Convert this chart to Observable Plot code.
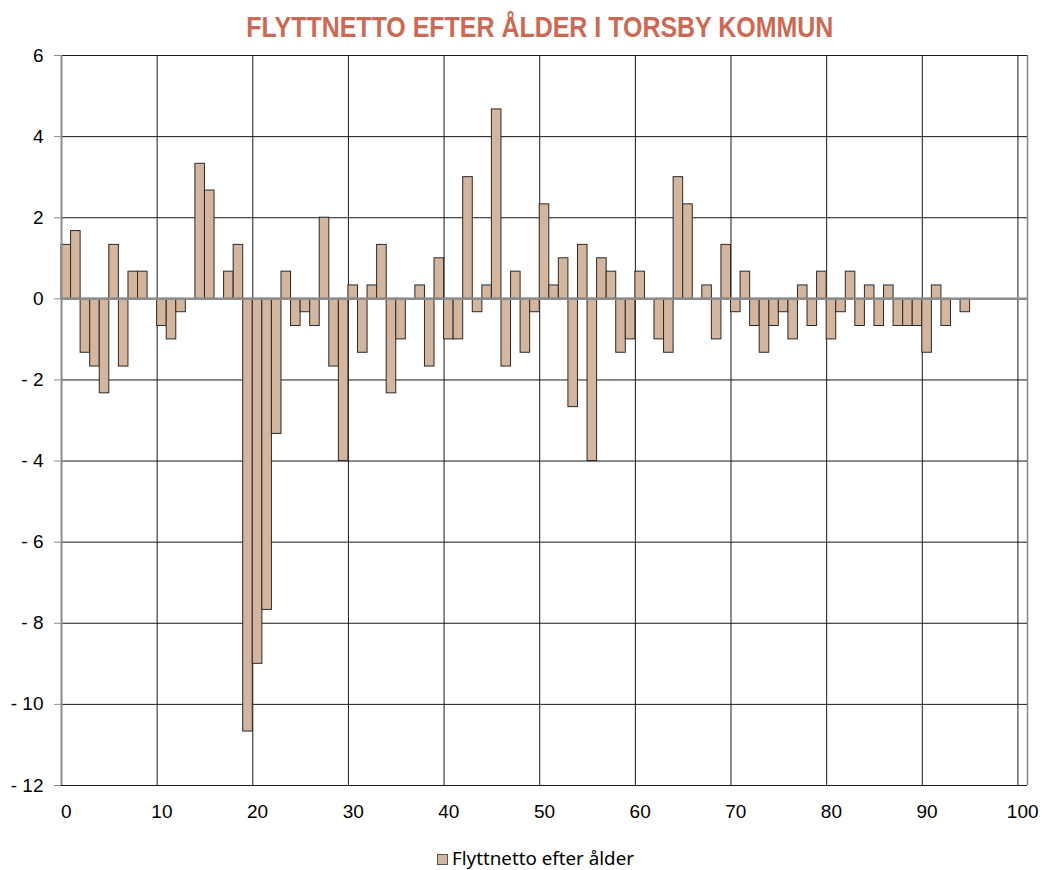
<!DOCTYPE html>
<html>
<head>
<meta charset="utf-8">
<script src="https://cdn.jsdelivr.net/npm/d3@7"></script>
<script src="https://cdn.jsdelivr.net/npm/@observablehq/plot@0.6"></script>
<style>
  html, body { margin: 0; padding: 0; background: #fff; }
  #wrap { position: relative; width: 1042px; height: 870px; overflow: hidden; }
  #title { position: absolute; left: 19px; top: 9px; width: 1042px; text-align: center; white-space: nowrap; }
  #title span { display: inline-block; font-family: "Liberation Sans", Arial, sans-serif;
    font-weight: bold; font-size: 30px; line-height: 36px; color: #cc6955; transform-origin: 50% 50%; }
  #chart { position: absolute; left: 0; top: 40px; }
  #legend { position: absolute; left: 437px; top: 846px; height: 24px; white-space: nowrap;
    font-family: "Noto Sans", "Liberation Sans", sans-serif; font-size: 18px; line-height: 24px; color: #000; }
  #legend .sw { display: inline-block; width: 9px; height: 9px; background: #d4b59e; border: 1px solid #555;
    margin-right: 4px; vertical-align: 0px; }
</style>
</head>
<body>
<div id="wrap">
  <div id="title"><span id="tt">FLYTTNETTO EFTER ÅLDER I TORSBY KOMMUN</span></div>
  <div id="chart"></div>
  <div id="legend"><span class="sw"></span><span id="lt">Flyttnetto efter ålder</span></div>
</div>
<script>
const ages = d3.range(0, 101);
const values = [
  1.33, 1.67, -1.33, -1.67, -2.33, 1.33, -1.67, 0.67, 0.67, 0,
  -0.67, -1, -0.33, 0, 3.33, 2.67, 0, 0.67, 1.33, -10.67,
  -9, -7.67, -3.33, 0.67, -0.67, -0.33, -0.67, 2, -1.67, -4,
  0.33, -1.33, 0.33, 1.33, -2.33, -1, 0, 0.33, -1.67, 1,
  -1, -1, 3, -0.33, 0.33, 4.67, -1.67, 0.67, -1.33, -0.33,
  2.33, 0.33, 1, -2.67, 1.33, -4, 1, 0.67, -1.33, -1,
  0.67, 0, -1, -1.33, 3, 2.33, 0, 0.33, -1, 1.33,
  -0.33, 0.67, -0.67, -1.33, -0.67, -0.33, -1, 0.33, -0.67, 0.67,
  -1, -0.33, 0.67, -0.67, 0.33, -0.67, 0.33, -0.67, -0.67, -0.67,
  -1.33, 0.33, -0.67, 0, -0.33, 0, 0, 0, 0, 0,
  0
];
const xTicks = [0, 10, 20, 30, 40, 50, 60, 70, 80, 90, 100];
const yTicks = [-12, -10, -8, -6, -4, -2, 0, 2, 4, 6];

const data = ages.map((a, i) => ({age: a, value: values[i]})).filter(d => d.value !== 0);
const vGrid = xTicks.map(t => t - 0.5);
const hGrid = yTicks.filter(t => t !== 0);

const chart = Plot.plot({
  width: 1042,
  height: 805,
  marginLeft: 61,
  marginRight: 15,
  marginTop: 15,
  marginBottom: 60,
  style: {fontFamily: "'Liberation Sans', Arial, sans-serif", fontSize: "19px", color: "#000", background: "#fff"},
  x: {domain: [-0.5, 100.5], label: null},
  y: {domain: [-12, 6], label: null},
  marks: [
    Plot.ruleX(vGrid, {stroke: "#1a1a1a", strokeWidth: 1}),
    Plot.ruleX([100.5], {stroke: "#888", strokeWidth: 1.5}),
    Plot.ruleY(hGrid, {stroke: "#1a1a1a", strokeWidth: 1}),
    Plot.rectY(data, {x1: d => d.age - 0.5, x2: d => d.age + 0.5, y: "value", fill: "#d4b59e", stroke: "#2a2a2a", strokeWidth: 1}),
    Plot.ruleY([0], {stroke: "#8c8c8c", strokeWidth: 2.5}),
    Plot.ruleX([-0.5], {stroke: "#8c8c8c", strokeWidth: 2}),
    Plot.axisY({ticks: yTicks, tickSize: 7, tickPadding: 11, stroke: "#8c8c8c",
      tickFormat: d => d < 0 ? "- " + Math.abs(d) : String(d)}),
    Plot.axisX({ticks: xTicks, tickSize: 0, tickPadding: 19, tickFormat: d => String(d)})
  ]
});
document.getElementById("chart").appendChild(chart);

// condense the title to the reference's width
const tt = document.getElementById("tt");
const w = tt.getBoundingClientRect().width;
tt.style.transform = `scaleX(${587 / w})`;
const lt = document.getElementById("lt");
const lw = lt.getBoundingClientRect().width;
lt.style.display = "inline-block";
lt.style.transformOrigin = "0 50%";
lt.style.transform = `scaleX(${182 / lw})`;
</script>
</body>
</html>
